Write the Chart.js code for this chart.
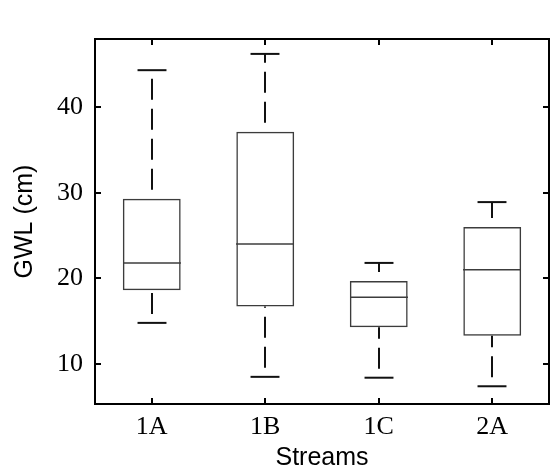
<!DOCTYPE html>
<html>
<head>
<meta charset="utf-8">
<script src="https://cdn.jsdelivr.net/npm/chart.js@4"></script>
<style>
  html, body { margin: 0; padding: 0; background: #fff; }
  #wrap { width: 551px; height: 475px; }
</style>
</head>
<body>
<div id="wrap"><canvas id="gwlChart" width="551" height="475"></canvas></div>
<script>
// groundwater level per stream (cm)
const streams = ['1A', '1B', '1C', '2A'];
const whiskerLow = [14.8, 8.5, 8.4, 7.4];
const q1 = [18.6, 16.7, 14.3, 13.3];
const median = [21.8, 24.0, 17.8, 21.0];
const q3 = [29.3, 37.1, 19.7, 26.0];
const whiskerHigh = [44.3, 46.2, 21.8, 28.9];
const yTicks = [10, 20, 30, 40];

const tickFont = { family: 'Liberation Serif', size: 26 };
const titleFont = { family: 'Liberation Sans', size: 25 };

// medians, dashed whiskers and end caps
const boxExtras = {
  id: 'boxExtras',
  afterDatasetsDraw(chart) {
    const ctx = chart.ctx;
    const x = chart.scales.x, y = chart.scales.y;
    const bars = chart.getDatasetMeta(0).data;
    ctx.save();
    streams.forEach((s, i) => {
      const cx = Math.round(x.getPixelForValue(i));
      const half = bars[i].width / 2;
      const capHalf = half / 2;

      ctx.strokeStyle = '#3c3c3c';
      ctx.lineWidth = 1.5;
      ctx.setLineDash([]);
      const ym = y.getPixelForValue(median[i]);
      ctx.beginPath();
      ctx.moveTo(cx - half, ym);
      ctx.lineTo(cx + half, ym);
      ctx.stroke();

      ctx.strokeStyle = '#111';
      ctx.lineWidth = 2;
      [whiskerLow[i], whiskerHigh[i]].forEach(v => {
        const yc = y.getPixelForValue(v);
        ctx.beginPath();
        ctx.moveTo(cx - capHalf, yc);
        ctx.lineTo(cx + capHalf, yc);
        ctx.stroke();
      });

      ctx.setLineDash([21, 9]);
      ctx.lineDashOffset = 21;
      [[whiskerLow[i], q1[i]], [q3[i], whiskerHigh[i]]].forEach(([a, b]) => {
        ctx.beginPath();
        ctx.moveTo(cx, y.getPixelForValue(a));
        ctx.lineTo(cx, y.getPixelForValue(b));
        ctx.stroke();
      });
    });
    ctx.restore();
  }
};

// closed frame with inward ticks on all four sides
const frame = {
  id: 'frame',
  afterDraw(chart) {
    const ctx = chart.ctx;
    const a = chart.chartArea;
    const x = chart.scales.x, y = chart.scales.y;
    const len = 6;
    ctx.save();
    ctx.strokeStyle = '#000';
    ctx.lineWidth = 2;
    ctx.strokeRect(a.left, a.top, a.right - a.left, a.bottom - a.top);
    ctx.beginPath();
    y.ticks.forEach((t, i) => {
      const py = Math.round(y.getPixelForTick(i));
      ctx.moveTo(a.left, py); ctx.lineTo(a.left + len, py);
      ctx.moveTo(a.right, py); ctx.lineTo(a.right - len, py);
    });
    x.ticks.forEach((t, i) => {
      const px = Math.round(x.getPixelForTick(i));
      ctx.moveTo(px, a.bottom); ctx.lineTo(px, a.bottom - len);
      ctx.moveTo(px, a.top); ctx.lineTo(px, a.top + len);
    });
    ctx.stroke();
    ctx.restore();
  }
};

const ctx = document.getElementById('gwlChart').getContext('2d');
const gwlChart = new Chart(ctx, {
  type: 'bar',
  data: {
    labels: streams,
    datasets: [{
      label: 'GWL',
      data: streams.map((s, i) => [q1[i], q3[i]]),
      backgroundColor: 'rgba(0,0,0,0)',
      borderColor: '#3c3c3c',
      borderWidth: 1.5,
      borderSkipped: false,
      categoryPercentage: 1,
      barPercentage: 0.51
    }]
  },
  options: {
    responsive: false,
    animation: false,
    layout: { padding: { top: 39, right: 2, left: 0, bottom: 0 } },
    plugins: {
      legend: { display: false },
      tooltip: { enabled: false }
    },
    scales: {
      x: {
        offset: true,
        grid: { display: false, drawTicks: false },
        border: { display: false },
        ticks: { color: '#000', font: tickFont, padding: 8 },
        title: { display: true, text: 'Streams', color: '#000', font: titleFont, padding: { top: 0, bottom: 2 } },
        afterFit(scale) { scale.height = 71; }
      },
      y: {
        min: 5.33,
        max: 47.94,
        grid: { display: false, drawTicks: false },
        border: { display: false },
        ticks: { color: '#000', font: tickFont, padding: 12 },
        afterBuildTicks(scale) { scale.ticks = yTicks.map(v => ({ value: v })); },
        title: { display: true, text: 'GWL (cm)', color: '#000', font: titleFont, padding: { top: 10, bottom: 0 } },
        afterFit(scale) { scale.width = 95; }
      }
    }
  },
  plugins: [boxExtras, frame]
});
</script>
</body>
</html>
